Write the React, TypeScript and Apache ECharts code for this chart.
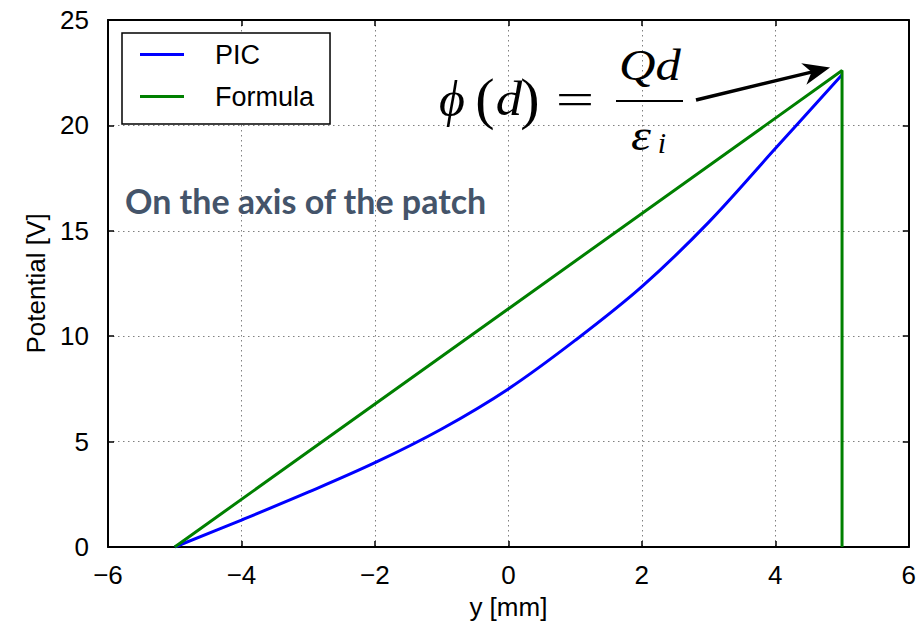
import React, { useEffect, useRef } from 'react';
import * as echarts from 'echarts';

// Potential along the patch axis: simulation (PIC) and analytic formula
const picY = [-5, -4, -3, -2, -1, 0, 1, 2, 3, 4, 5];
const picPotential = [0, 1.28, 2.6, 4.0, 5.6, 7.5, 9.8, 12.35, 15.4, 18.9, 22.4];
const formulaY = [-5, 5, 5];
const formulaPotential = [0, 22.6, 0];

const xTickValues = [-6, -4, -2, 0, 2, 4, 6];
const yTickValues = [0, 5, 10, 15, 20, 25];

const seriesNames = ['PIC', 'Formula'];
const noteText = 'On the axis of the patch';

const SANS = '"Liberation Sans", Arial, sans-serif';
const SERIF = '"Liberation Serif", "DejaVu Serif", serif';

const fmtTick = (v: number) => (v < 0 ? '\u2212' + Math.abs(v) : String(v));

export default function App() {
  const ref = useRef<HTMLDivElement>(null);

  useEffect(() => {
    if (!ref.current) return;
    const chart = echarts.init(ref.current, undefined, { renderer: 'svg' });

    const xMin = xTickValues[0];
    const xMax = xTickValues[xTickValues.length - 1];
    const xStep = xTickValues[1] - xTickValues[0];
    const yMin = yTickValues[0];
    const yMax = yTickValues[yTickValues.length - 1];
    const yStep = yTickValues[1] - yTickValues[0];

    const gridLine = { show: true, lineStyle: { color: '#808080', width: 1, type: [1.5, 3.5] as any } };
    const axisLine = { show: true, onZero: false, lineStyle: { color: '#000', width: 2 } };
    const tick = { show: true, inside: true, length: 6, lineStyle: { color: '#000', width: 1.5 } };

    const baseX = { type: 'value', min: xMin, max: xMax, interval: xStep };
    const baseY = { type: 'value', min: yMin, max: yMax, interval: yStep };

    chart.setOption({
      animation: false,
      backgroundColor: '#fff',
      grid: { left: 108, right: 9, top: 20, bottom: 83, containLabel: false },
      legend: {
        data: seriesNames,
        orient: 'vertical',
        left: 122,
        top: 33,
        backgroundColor: '#fff',
        borderColor: '#000',
        borderWidth: 1.5,
        borderRadius: 0,
        padding: [8, 16, 14, 18],
        itemWidth: 44,
        itemHeight: 3,
        itemGap: 15,
        icon: 'rect',
        textStyle: { fontSize: 27, fontFamily: SANS, color: '#000', padding: [0, 0, 0, 26] },
      },
      xAxis: [
        {
          ...baseX,
          position: 'bottom',
          name: 'y [mm]',
          nameLocation: 'middle',
          nameGap: 47,
          nameTextStyle: { fontSize: 26, fontFamily: SANS, color: '#000' },
          axisLine,
          axisTick: tick,
          splitLine: gridLine,
          axisLabel: { fontSize: 26, fontFamily: SANS, color: '#000', margin: 15, formatter: fmtTick },
        },
        {
          ...baseX,
          position: 'top',
          axisLine,
          axisTick: tick,
          splitLine: { show: false },
          axisLabel: { show: false },
        },
      ],
      yAxis: [
        {
          ...baseY,
          position: 'left',
          name: 'Potential [V]',
          nameLocation: 'middle',
          nameGap: 58,
          nameTextStyle: { fontSize: 26, fontFamily: SANS, color: '#000' },
          axisLine,
          axisTick: tick,
          splitLine: gridLine,
          axisLabel: { fontSize: 26, fontFamily: SANS, color: '#000', margin: 19, formatter: fmtTick },
        },
        {
          ...baseY,
          position: 'right',
          axisLine,
          axisTick: tick,
          splitLine: { show: false },
          axisLabel: { show: false },
        },
      ],
      series: [
        {
          name: seriesNames[0],
          type: 'line',
          xAxisIndex: 0,
          yAxisIndex: 0,
          data: picY.map((y, i) => [y, picPotential[i]]),
          showSymbol: false,
          smooth: 0.35,
          lineStyle: { color: '#0000ff', width: 3 },
          itemStyle: { color: '#0000ff' },
          z: 2,
        },
        {
          name: seriesNames[1],
          type: 'line',
          xAxisIndex: 0,
          yAxisIndex: 0,
          data: formulaY.map((y, i) => [y, formulaPotential[i]]),
          showSymbol: false,
          lineStyle: { color: '#008000', width: 3 },
          itemStyle: { color: '#008000' },
          z: 3,
        },
      ],
    });

    // Arrow from the formula to the peak of the analytic curve
    const peak = chart.convertToPixel({ gridIndex: 0 }, [formulaY[1], formulaPotential[1]]) as number[];
    const tip = [peak[0] - 12, peak[1] - 3];
    const start = [696, 100];
    const dx = tip[0] - start[0];
    const dy = tip[1] - start[1];
    const len = Math.hypot(dx, dy);
    const ux = dx / len;
    const uy = dy / len;
    const nx = -uy;
    const ny = ux;
    const headLen = 27;
    const headHalf = 11;
    const bx = tip[0] - headLen * ux;
    const by = tip[1] - headLen * uy;
    const notch = [tip[0] - 19 * ux, tip[1] - 19 * uy];

    const mathFont = (size: number, italic: boolean) =>
      `${italic ? 'italic ' : ''}${size}px ${SERIF}`;
    const glyph = (
      text: string,
      x: number,
      y: number,
      size: number,
      italic: boolean,
      scaleX = 1
    ) => ({
      type: 'text',
      x,
      y,
      scaleX,
      silent: true,
      style: { text, font: mathFont(size, italic), fill: '#000', align: 'center', verticalAlign: 'middle' },
    });

    chart.setOption({
      graphic: [
        {
          type: 'text',
          left: 125,
          top: 183,
          silent: true,
          style: {
            text: noteText,
            font: 'bold 34px Lato, "Open Sans", sans-serif',
            fill: '#44546A',
          },
        },
        glyph('\u03D5', 452, 99, 50, true),
        glyph('(', 485, 98, 58, false),
        glyph('d', 509, 99, 48, true, 1.1),
        glyph(')', 530, 98, 58, false),
        glyph('=', 575, 99, 44, false, 1.55),
        glyph('Qd', 650, 65, 44, true, 1.15),
        {
          type: 'line',
          silent: true,
          shape: { x1: 616, y1: 101, x2: 683, y2: 101 },
          style: { stroke: '#000', lineWidth: 2 },
        },
        glyph('\u03B5', 641, 135, 44, true, 1.15),
        glyph('i', 662, 142, 30, true),
        {
          type: 'line',
          silent: true,
          shape: { x1: start[0], y1: start[1], x2: notch[0] + 2 * ux, y2: notch[1] + 2 * uy },
          style: { stroke: '#000', lineWidth: 3.5 },
        },
        {
          type: 'polygon',
          silent: true,
          shape: {
            points: [
              [tip[0], tip[1]],
              [bx + headHalf * nx, by + headHalf * ny],
              [notch[0], notch[1]],
              [bx - headHalf * nx, by - headHalf * ny],
            ],
          },
          style: { fill: '#000' },
        },
      ],
    });

    return () => chart.dispose();
  }, []);

  return (
    <div
      ref={ref}
      style={{ position: 'fixed', left: 0, top: 0, width: 919, height: 630, background: '#fff' }}
    />
  );
}
